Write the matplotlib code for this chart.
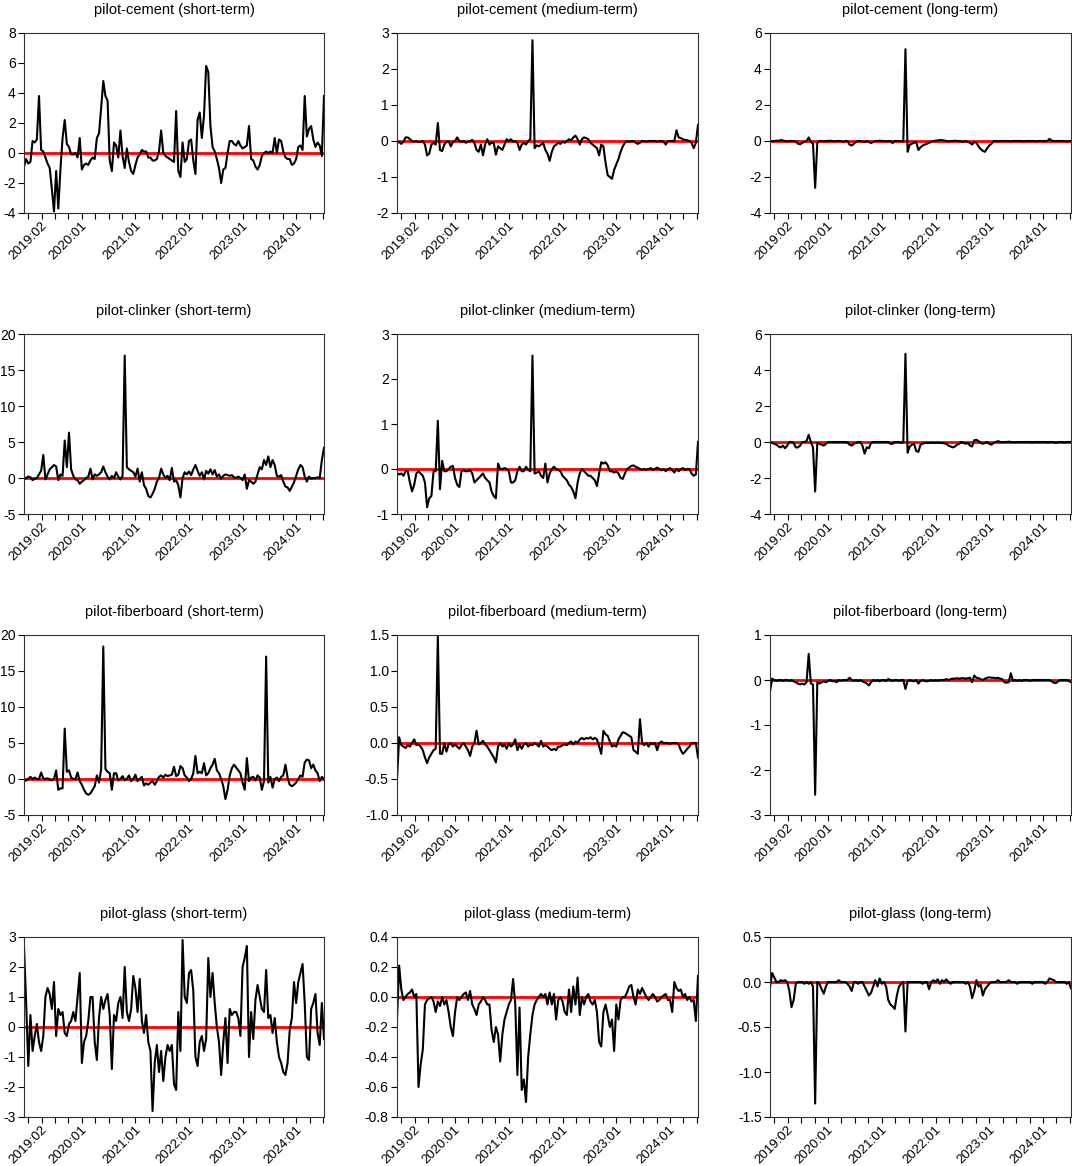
import numpy as np
import matplotlib
matplotlib.use("Agg")
import matplotlib.pyplot as plt
import matplotlib.transforms as mtransforms

plt.rcParams['font.family'] = ['Liberation Sans', 'DejaVu Sans']
plt.rcParams['axes.unicode_minus'] = False

# ---------------- data (on an even date grid) ----------------
date_start, date_end = 2019.17, 2024.77

cement_short = [
    -0.9, -0.4, -0.7, -0.6, 0.8, 0.7, 0.9, 3.8, 0.2, 0.1,
    -0.3, -0.7, -1.0, -2.4, -3.9, -1.2, -3.7, -1.1, 1.0, 2.2,
    0.6, 0.4, -0.1, -0.1, 0.0, -0.3, 1.0, -1.1, -0.8, -0.7,
    -0.8, -0.5, -0.3, -0.4, 1.0, 1.3, 3.0, 4.8, 3.8, 3.5,
    -0.5, -1.2, 0.7, 0.5, -0.3, 1.5, -0.2, -1.0, 0.3, -0.6,
    -1.2, -1.4, -0.8, -0.3, -0.1, 0.2, 0.1, 0.1, -0.3, -0.3,
    -0.5, -0.5, -0.4, 0.1, 1.5, 0.0, -0.2, -0.3, -0.4, -0.5,
    -0.6, 2.8, -1.2, -1.6, 0.7, -0.6, -0.4, 0.8, 0.9, -0.5,
    -1.4, 2.2, 2.7, 1.0, 2.5, 5.8, 5.4, 1.8, 0.4, 0.1,
    -0.4, -1.0, -2.0, -1.1, -1.0, 0.0, 0.8, 0.8, 0.6, 0.5,
    0.8, 0.5, 0.3, 0.4, 0.5, 1.8, -0.4, -0.5, -0.9, -1.1,
    -0.8, -0.2, 0.0, 0.1, 0.0, 0.1, 0.0, 1.0, 0.0, 0.9,
    0.8, 0.1, -0.3, -0.4, -0.4, -0.8, -0.7, -0.4, 0.4, 0.5,
    0.2, 3.8, 1.1, 1.6, 1.8, 0.9, 0.4, 0.7, 0.5, -0.2, 3.8]

cement_medium = [
    -0.05, -0.03, -0.08, -0.02, 0.1, 0.1, 0.05, 0.0, -0.02, 0.0,
    -0.03, -0.02, 0.0, -0.1, -0.4, -0.35, -0.1, -0.05, -0.1, 0.5,
    -0.25, -0.28, -0.1, -0.02, 0.0, -0.15, -0.03, 0.0, 0.1, 0.0,
    -0.02, 0.0, -0.05, -0.02, 0.0, 0.03, -0.05, -0.25, -0.3, -0.1,
    -0.4, -0.1, 0.05, -0.1, -0.05, -0.05, -0.38, -0.15, -0.2, -0.25,
    -0.1, 0.05, 0.0, 0.05, -0.02, 0.0, -0.05, -0.25, -0.1, -0.05,
    -0.1, 0.0, 0.05, 2.8, -0.2, -0.12, -0.15, -0.1, -0.05, -0.25,
    -0.35, -0.55, -0.3, -0.15, -0.1, -0.05, -0.08, -0.02, -0.05, 0.0,
    0.05, 0.02, 0.1, 0.15, 0.05, -0.1, 0.05, 0.1, 0.08, 0.05,
    -0.05, -0.1, -0.15, -0.2, -0.4, -0.1, -0.15, -0.6, -0.95, -1.0,
    -1.05, -0.8, -0.65, -0.5, -0.3, -0.15, -0.05, 0.0, -0.02, 0.0,
    0.0, -0.05, -0.08, -0.05, 0.0, 0.0, -0.02, 0.0, 0.0, 0.0,
    0.0, -0.02, 0.0, 0.0, -0.02, -0.1, 0.0, 0.0, 0.0, 0.0,
    0.3, 0.1, 0.08, 0.05, 0.03, 0.02, 0.0, -0.05, -0.2, -0.05, 0.45]

cement_long = [
    0.0, -0.02, 0.0, 0.02, 0.0, 0.05, 0.03, 0.0, -0.02, 0.0,
    0.0, 0.0, -0.03, -0.15, -0.18, -0.1, -0.05, 0.0, 0.2, -0.05,
    -0.15, -2.6, -0.1, 0.0, 0.0, -0.03, 0.0, 0.0, 0.02, 0.0,
    -0.02, 0.0, 0.0, 0.0, -0.05, 0.0, 0.0, -0.2, -0.25, -0.15,
    -0.05, 0.0, 0.0, -0.03, -0.05, 0.0, -0.05, -0.12, -0.05, 0.0,
    0.0, 0.02, 0.0, 0.0, -0.02, 0.0, 0.0, -0.12, 0.0, 0.0,
    0.0, -0.02, 0.0, 5.1, -0.6, -0.2, -0.15, -0.1, -0.05, -0.5,
    -0.35, -0.25, -0.2, -0.15, -0.1, -0.05, 0.0, 0.02, 0.03, 0.05,
    0.05, 0.03, 0.0, -0.02, 0.0, 0.0, 0.02, 0.0, 0.0, -0.02,
    -0.05, 0.0, -0.05, -0.1, -0.2, -0.05, -0.1, -0.3, -0.45, -0.55,
    -0.6, -0.4, -0.25, -0.15, 0.0, 0.0, -0.02, 0.0, 0.0, 0.0,
    0.0, 0.0, -0.02, 0.0, 0.0, 0.0, 0.0, 0.0, -0.02, 0.0,
    0.0, 0.0, 0.0, 0.0, -0.02, 0.0, 0.0, 0.0, 0.0, 0.0,
    0.12, 0.02, 0.0, 0.0, 0.0, 0.0, 0.0, 0.0, -0.03, 0.0, 0.0]

clinker_short = [
    -0.2, 0.0, 0.2, 0.1, -0.3, -0.1, 0.0, 0.5, 1.0, 3.2,
    -0.2, 0.5, 1.2, 1.5, 1.8, 1.6, -0.3, 0.5, 0.3, 5.2,
    1.5, 6.3, 1.2, 0.3, -0.2, -0.3, -0.8, -0.5, -0.3, 0.0,
    0.2, 1.3, -0.2, 0.5, 0.3, 0.5, 0.8, 1.6, 0.8, 0.2,
    -0.2, 0.3, 0.0, 0.8, 0.2, -0.2, 0.3, 17.0, 1.5, 1.2,
    1.0, 0.8, 0.2, 1.3, -0.5, 0.8, -1.0, -1.5, -2.5, -2.7,
    -2.2, -1.5, -0.5, 0.0, 1.3, 0.5, 0.0, 0.3, -0.3, 1.4,
    -0.5, -0.3, -1.0, -2.7, 0.0, 0.8, 0.5, 0.9, 0.4, 1.2,
    1.8, 1.0, 0.3, 0.8, -0.2, 1.0, 0.6, 1.2, 0.5, 1.1,
    0.2, 0.5, -0.1, 0.3, 0.5, 0.4, 0.3, 0.4, 0.1, 0.0,
    0.2, 0.0, -0.3, 0.5, -1.5, -0.3, -0.5, -0.8, -0.5, 0.5,
    1.5, 1.2, 2.5, 1.8, 3.0, 1.5, 2.5, 1.8, 0.3, 0.2,
    0.4, -0.5, -1.2, -1.3, -1.8, -1.2, -0.6, 0.3, 1.2, 1.8,
    1.5, 0.2, -0.5, 0.2, -0.1, 0.0, 0.0, 0.1, 0.0, 2.5, 4.2]

clinker_medium = [
    -0.1, -0.12, -0.1, -0.15, -0.05, -0.05, -0.3, -0.5, -0.35, -0.1,
    -0.05, -0.1, -0.15, -0.3, -0.85, -0.65, -0.6, -0.05, -0.05, 1.07,
    -0.45, 0.18, -0.05, -0.05, 0.0, 0.05, 0.07, -0.2, -0.35, -0.4,
    -0.05, -0.03, -0.05, -0.05, -0.02, -0.1, -0.3, -0.25, -0.2, -0.15,
    -0.1, -0.2, -0.25, -0.3, -0.5, -0.6, -0.65, 0.12, 0.0, 0.0,
    0.02, 0.0, -0.05, -0.3, -0.3, -0.25, -0.05, 0.05, -0.05, -0.05,
    0.05, -0.02, -0.05, 2.52, -0.1, -0.08, -0.05, -0.15, -0.2, 0.12,
    -0.3, -0.1, 0.0, 0.05, 0.0, -0.02, -0.05, -0.15, -0.2, -0.25,
    -0.35, -0.4, -0.5, -0.65, -0.3, -0.1, 0.0, -0.05, -0.1, -0.15,
    -0.15, -0.2, -0.25, -0.38, -0.1, 0.15, 0.12, 0.15, 0.08, -0.05,
    -0.05, -0.08, -0.05, -0.1, -0.2, -0.22, -0.1, 0.0, 0.03, 0.07,
    0.08, 0.05, 0.03, 0.0, -0.02, 0.0, -0.02, 0.0, 0.02, -0.02,
    0.0, 0.03, 0.0, -0.03, 0.0, -0.05, 0.0, 0.02, -0.02, -0.08,
    0.0, -0.05, 0.0, 0.02, -0.02, 0.0, 0.0, -0.1, -0.15, -0.12, 0.6]

clinker_long = [
    0.0, -0.05, -0.1, -0.15, -0.25, -0.3, -0.2, -0.35, -0.2, 0.0,
    0.0, -0.05, -0.3, -0.3, -0.2, 0.0, 0.0, 0.05, 0.4, 0.0,
    -0.3, -2.75, -0.05, -0.1, -0.15, -0.2, -0.1, 0.0, 0.0, 0.0,
    0.0, 0.0, 0.0, 0.0, 0.0, 0.0, -0.02, -0.15, -0.2, -0.1,
    -0.05, 0.0, 0.0, -0.2, -0.65, -0.3, -0.35, -0.05, 0.0, 0.0,
    0.0, 0.0, 0.0, 0.0, 0.0, 0.0, -0.1, -0.1, 0.0, 0.0,
    0.0, -0.05, 0.0, 4.9, -0.6, -0.25, -0.15, -0.1, -0.5, -0.55,
    -0.15, -0.1, -0.05, -0.05, -0.05, -0.03, -0.05, -0.05, -0.03, -0.05,
    -0.05, -0.08, -0.1, -0.2, -0.25, -0.3, -0.25, -0.15, -0.1, 0.0,
    -0.05, -0.1, -0.05, -0.2, -0.25, 0.1, 0.12, 0.05, -0.05, -0.1,
    -0.05, 0.0, -0.1, -0.15, -0.05, 0.0, 0.05, 0.0, 0.0, 0.0,
    0.0, 0.02, 0.0, 0.0, -0.02, 0.0, 0.0, 0.0, 0.0, 0.0,
    0.0, 0.0, -0.02, 0.0, 0.0, 0.0, 0.0, 0.0, 0.0, -0.02,
    0.0, 0.0, 0.0, -0.05, 0.0, 0.0, 0.0, -0.03, 0.0, 0.0, 0.0]

fiberboard_short = [
    -0.3, -0.2, 0.0, 0.3, 0.0, 0.2, 0.0, 0.0, 0.9, 0.1,
    0.0, 0.1, -0.1, -0.2, 0.0, 1.2, -1.5, -1.3, -1.3, 7.0,
    1.0, 1.2, 0.2, 0.0, 0.0, 0.9, -0.3, -0.8, -1.5, -2.0,
    -2.2, -2.0, -1.5, -1.0, 0.5, -0.5, 1.3, 18.4, 1.4, 1.0,
    0.8, -1.5, 0.8, 0.8, -0.2, 0.0, 0.4, -0.2, 0.0, 0.5,
    -0.3, 0.0, 0.6, -0.3, 0.0, 0.3, -0.9, -0.6, -0.8, -0.5,
    -0.3, -0.8, -0.3, 0.3, 0.5, 0.2, 0.6, 0.4, 0.5, 0.6,
    1.7, 0.4, 0.6, 1.8, 1.5, 0.5, 0.2, -0.3, 0.0, 0.8,
    3.2, 0.8, 1.0, 0.8, 2.2, 0.5, 0.8, 1.5, 2.0, 2.8,
    1.2, 0.8, 0.0, -1.0, -2.8, -1.5, 0.5, 1.5, 2.0, 1.6,
    1.2, 0.8, -0.5, -1.5, 2.9, -0.3, 0.2, 0.3, -0.2, 0.5,
    0.2, -1.5, -0.3, 17.0, -0.5, 0.3, -1.2, 0.0, 0.2, -0.3,
    0.3, 0.5, 2.0, 0.2, -0.8, -1.0, -0.8, -0.5, 0.0, 0.5,
    0.3, 2.3, 2.7, 2.6, 1.5, 2.0, 1.2, 0.8, -0.3, 0.3, 0.0]

fiberboard_medium = [
    -0.52, 0.08, -0.03, -0.05, -0.07, -0.03, -0.05, 0.0, 0.05, -0.03,
    -0.02, -0.05, -0.1, -0.2, -0.28, -0.2, -0.15, -0.1, -0.08, 1.48,
    -0.15, -0.15, 0.0, -0.12, -0.02, 0.0, -0.05, -0.02, -0.05, -0.08,
    -0.03, 0.0, -0.05, -0.1, -0.18, -0.05, 0.0, 0.17, -0.02, 0.0,
    0.03, -0.02, -0.05, -0.1, -0.15, -0.2, -0.27, -0.05, 0.0, -0.05,
    -0.02, -0.08, 0.0, -0.05, -0.02, 0.05, -0.1, -0.02, -0.08, -0.02,
    0.0, -0.05, -0.02, -0.03, 0.0, -0.02, -0.05, 0.03, -0.05, -0.03,
    -0.05, -0.08, -0.1, -0.08, -0.1, -0.05, -0.05, -0.03, -0.02, -0.03,
    0.0, 0.02, -0.02, 0.02, 0.0, 0.05, 0.07, 0.05, 0.07, 0.06,
    0.08, 0.05, 0.07, 0.05, -0.05, -0.15, 0.17, 0.12, 0.1, 0.02,
    -0.05, -0.03, -0.05, 0.05, 0.1, 0.15, 0.14, 0.12, 0.1, 0.08,
    -0.1, -0.12, -0.15, 0.33, 0.0, -0.03, 0.0, -0.05, 0.0, -0.02,
    0.0, -0.1, 0.0, 0.02, 0.0, 0.0, 0.0, -0.01, 0.0, 0.0,
    0.0, -0.02, -0.1, -0.15, -0.12, -0.08, -0.05, 0.0, 0.0, 0.0, -0.2]

fiberboard_long = [
    -0.25, 0.03, 0.0, -0.02, 0.0, 0.0, -0.02, 0.0, 0.0, -0.02,
    0.0, -0.03, -0.05, -0.08, -0.1, -0.08, -0.1, -0.05, 0.58, -0.08,
    -0.1, -2.55, -0.05, -0.08, -0.05, -0.03, -0.05, -0.02, 0.0, -0.03,
    -0.02, -0.05, 0.0, -0.02, 0.0, 0.0, 0.0, 0.05, 0.0, -0.02,
    0.0, -0.02, 0.0, -0.03, -0.05, -0.08, -0.12, -0.05, 0.0, -0.02,
    0.0, -0.03, 0.0, 0.0, -0.02, 0.02, 0.0, -0.02, 0.0, 0.0,
    -0.02, 0.0, 0.0, -0.2, -0.02, 0.0, -0.02, -0.03, 0.0, -0.08,
    -0.02, 0.0, -0.02, -0.03, -0.02, 0.0, -0.02, 0.0, -0.02, 0.0,
    0.0, 0.0, 0.02, 0.0, 0.02, 0.03, 0.03, 0.04, 0.03, 0.04,
    0.04, 0.03, 0.04, 0.05, -0.05, 0.1, 0.05, 0.04, 0.02, 0.0,
    0.03, 0.05, 0.06, 0.05, 0.05, 0.04, 0.05, 0.03, 0.02, -0.05,
    -0.06, -0.05, 0.15, -0.02, 0.0, -0.02, 0.0, -0.02, 0.0, 0.0,
    0.0, -0.02, 0.0, 0.0, 0.0, 0.0, 0.0, 0.0, 0.0, 0.0,
    0.0, -0.03, -0.06, -0.07, -0.03, 0.0, 0.0, 0.0, 0.0, -0.02, -0.05]

glass_short = [
    2.7, 0.8, -1.3, 0.4, -0.8, -0.3, 0.1, -0.5, -0.8, -0.3,
    1.0, 1.3, 1.1, 0.6, 1.5, -0.3, 0.6, 0.4, 0.5, -0.2,
    -0.3, 0.1, 0.2, 0.5, 0.2, 1.0, 1.8, -1.2, -0.5, -0.3,
    0.2, 1.0, 1.0, -0.5, -1.1, 0.3, 1.0, 0.6, 0.9, 1.1,
    0.4, -1.4, 0.4, 0.2, 0.8, 1.0, 0.3, 2.0, 0.5, 0.2,
    0.6, 1.7, 1.3, 0.5, 1.6, 0.2, -0.2, 0.4, -0.5, -0.8,
    -2.8, -1.2, -0.6, -1.5, -0.8, -1.8, -1.0, -0.6, -0.8, -0.6,
    -1.9, -2.1, 0.5, -0.8, 2.9, 1.0, 0.8, 1.8, 1.9, 1.2,
    -1.0, -1.3, -0.5, -0.3, -0.8, -0.4, 2.3, 1.0, 1.8, 0.8,
    0.0, -0.5, -1.6, -0.5, 0.3, -1.2, 0.6, 0.4, 0.5, 0.5,
    0.3, -0.3, 2.0, 2.3, 2.7, -1.0, 0.5, -0.4, 0.9, 1.4,
    1.0, 0.6, 0.5, 1.9, 0.3, 0.4, -0.2, 0.3, -0.5, -1.0,
    -1.2, -1.5, -1.6, -1.2, -0.1, 0.3, 1.5, 0.8, 1.5, 1.8,
    2.1, 0.8, -1.0, -1.1, 0.6, 0.8, 1.1, -0.2, -0.6, 0.8, -0.4]

glass_medium = [
    -0.15, 0.21, 0.05, -0.02, 0.0, 0.02, 0.03, 0.05, 0.0, 0.02,
    -0.6, -0.45, -0.35, -0.05, -0.02, -0.01, 0.0, -0.03, -0.1, -0.03,
    -0.06, 0.0, -0.05, -0.02, -0.1, -0.2, -0.26, -0.1, 0.0, -0.02,
    0.0, 0.02, 0.03, -0.02, 0.04, -0.05, -0.08, -0.12, -0.05, -0.03,
    0.0, -0.02, -0.05, -0.05, -0.22, -0.3, -0.2, -0.25, -0.43, -0.25,
    -0.15, -0.1, -0.05, -0.02, 0.12, -0.05, -0.52, -0.07, -0.62, -0.55,
    -0.7, -0.4, -0.25, -0.12, -0.05, -0.02, 0.0, 0.02, 0.0, 0.02,
    -0.05, 0.03, -0.05, 0.02, -0.15, -0.02, 0.0, -0.03, -0.1, -0.12,
    0.05, -0.1, 0.07, -0.05, 0.13, -0.12, 0.0, -0.05, 0.0, 0.02,
    -0.03, -0.05, -0.02, -0.1, -0.3, -0.33, -0.1, -0.05, -0.12, -0.2,
    -0.15, -0.36, -0.05, -0.15, -0.02, 0.0, 0.0, 0.03, 0.07, 0.08,
    0.0, -0.05, 0.05, 0.02, 0.06, 0.03, 0.0, -0.02, 0.0, 0.02,
    0.0, -0.03, -0.02, 0.0, 0.01, 0.02, -0.02, -0.02, -0.1, 0.1,
    0.06, 0.04, 0.05, 0.0, 0.02, -0.02, 0.0, -0.03, -0.02, -0.16, 0.14]

glass_long = [
    -0.06, 0.1, 0.05, 0.0, 0.0, 0.02, 0.01, 0.02, 0.0, -0.1,
    -0.28, -0.2, -0.02, 0.0, 0.0, 0.0, -0.02, 0.0, -0.02, 0.0,
    -0.05, -1.35, 0.0, -0.02, -0.08, -0.13, -0.05, 0.0, 0.0, 0.0,
    0.0, 0.0, 0.02, 0.0, 0.0, 0.0, -0.02, -0.05, -0.1, 0.0,
    0.0, -0.02, 0.0, 0.0, -0.05, -0.1, -0.15, -0.12, -0.05, 0.02,
    -0.05, 0.04, -0.02, 0.0, -0.05, -0.2, -0.25, -0.27, -0.3, -0.15,
    -0.05, -0.02, 0.0, -0.55, 0.0, 0.0, 0.0, 0.0, 0.0, 0.0,
    0.0, -0.02, 0.0, 0.0, -0.08, 0.0, 0.02, 0.0, 0.03, -0.02,
    0.02, 0.0, 0.03, 0.0, -0.02, 0.0, 0.0, 0.0, 0.0, 0.0,
    0.0, -0.02, 0.0, -0.05, -0.18, -0.1, 0.02, -0.05, -0.03, -0.15,
    -0.08, -0.05, -0.02, 0.0, 0.0, 0.0, 0.02, 0.0, 0.0, 0.0,
    0.0, 0.02, 0.0, 0.0, 0.0, -0.02, 0.0, 0.0, 0.0, 0.0,
    0.0, 0.0, -0.02, 0.0, 0.0, 0.0, 0.0, 0.0, -0.02, 0.0,
    0.04, 0.03, 0.02, 0.0, 0.0, 0.0, 0.0, 0.0, -0.02, 0.0, -0.07]

# panel titles
titles = [
    "pilot-cement (short-term)", "pilot-cement (medium-term)", "pilot-cement (long-term)",
    "pilot-clinker (short-term)", "pilot-clinker (medium-term)", "pilot-clinker (long-term)",
    "pilot-fiberboard (short-term)", "pilot-fiberboard (medium-term)", "pilot-fiberboard (long-term)",
    "pilot-glass (short-term)", "pilot-glass (medium-term)", "pilot-glass (long-term)",
]
series = [cement_short, cement_medium, cement_long,
          clinker_short, clinker_medium, clinker_long,
          fiberboard_short, fiberboard_medium, fiberboard_long,
          glass_short, glass_medium, glass_long]

# y axis ticks per panel
y_ticks = [
    [-4, -2, 0, 2, 4, 6, 8], [-2, -1, 0, 1, 2, 3], [-4, -2, 0, 2, 4, 6],
    [-5, 0, 5, 10, 15, 20], [-1, 0, 1, 2, 3], [-4, -2, 0, 2, 4, 6],
    [-5, 0, 5, 10, 15, 20], [-1.0, -0.5, 0.0, 0.5, 1.0, 1.5], [-3, -2, -1, 0, 1],
    [-3, -2, -1, 0, 1, 2, 3], [-0.8, -0.6, -0.4, -0.2, 0.0, 0.2, 0.4], [-1.5, -1.0, -0.5, 0.0, 0.5],
]
y_decimals = [0, 0, 0, 0, 0, 0, 0, 1, 0, 0, 1, 1]

# x axis: quarterly ticks, labelled at the first quarter of each year (plus 2019:02)
x_ticks = [2019.25 + 0.25 * i for i in range(23)]
x_tick_labels = {2019.25: "2019:02", 2020.0: "2020:01", 2021.0: "2021:01",
                 2022.0: "2022:01", 2023.0: "2023:01", 2024.0: "2024:01"}

# ---------------- figure ----------------
W, H = 1072, 1166
fig = plt.figure(figsize=(W / 100, H / 100), dpi=100)

col_left = [24, 397, 770]
col_width = [300, 301, 301]
row_top = [33, 334, 635, 937]
row_height = 180

shift_first = mtransforms.ScaledTranslation(-4 / 100, 0, fig.dpi_scale_trans)
shift_year = mtransforms.ScaledTranslation(8 / 100, 0, fig.dpi_scale_trans)

for i, vals in enumerate(series):
    r, c = divmod(i, 3)
    ax = fig.add_axes([col_left[c] / W, 1 - (row_top[r] + row_height) / H,
                       col_width[c] / W, row_height / H])
    x = np.linspace(date_start, date_end, len(vals))
    ax.axhline(0, color="#ff0000", lw=2.0, zorder=1)
    ax.plot(x, vals, color="black", lw=1.5, zorder=2)
    ax.set_xlim(date_start, date_end)
    yt = y_ticks[i]
    ax.set_ylim(yt[0], yt[-1])
    ax.set_yticks(yt)
    d = y_decimals[i]
    ax.set_yticklabels([f"{v:.{d}f}" for v in yt])
    ax.set_xticks(x_ticks)
    ax.set_xticklabels([x_tick_labels.get(round(t, 2), "") for t in x_ticks],
                       rotation=45, ha="center", va="top")
    for t, lab in zip(x_ticks, ax.get_xticklabels()):
        if lab.get_text():
            sh = shift_first if round(t, 2) == 2019.25 else shift_year
            lab.set_transform(lab.get_transform() + sh)
    ax.tick_params(axis="both", direction="out", length=4, width=0.8,
                   labelsize=10, colors="black", pad=2)
    ax.tick_params(axis="x", pad=1, labelsize=9.5)
    for s in ax.spines.values():
        s.set_linewidth(0.8)
        s.set_color("#333333")
    ax.set_title(titles[i], fontsize=10.5, pad=14)

fig.savefig("out.png", dpi=100)
